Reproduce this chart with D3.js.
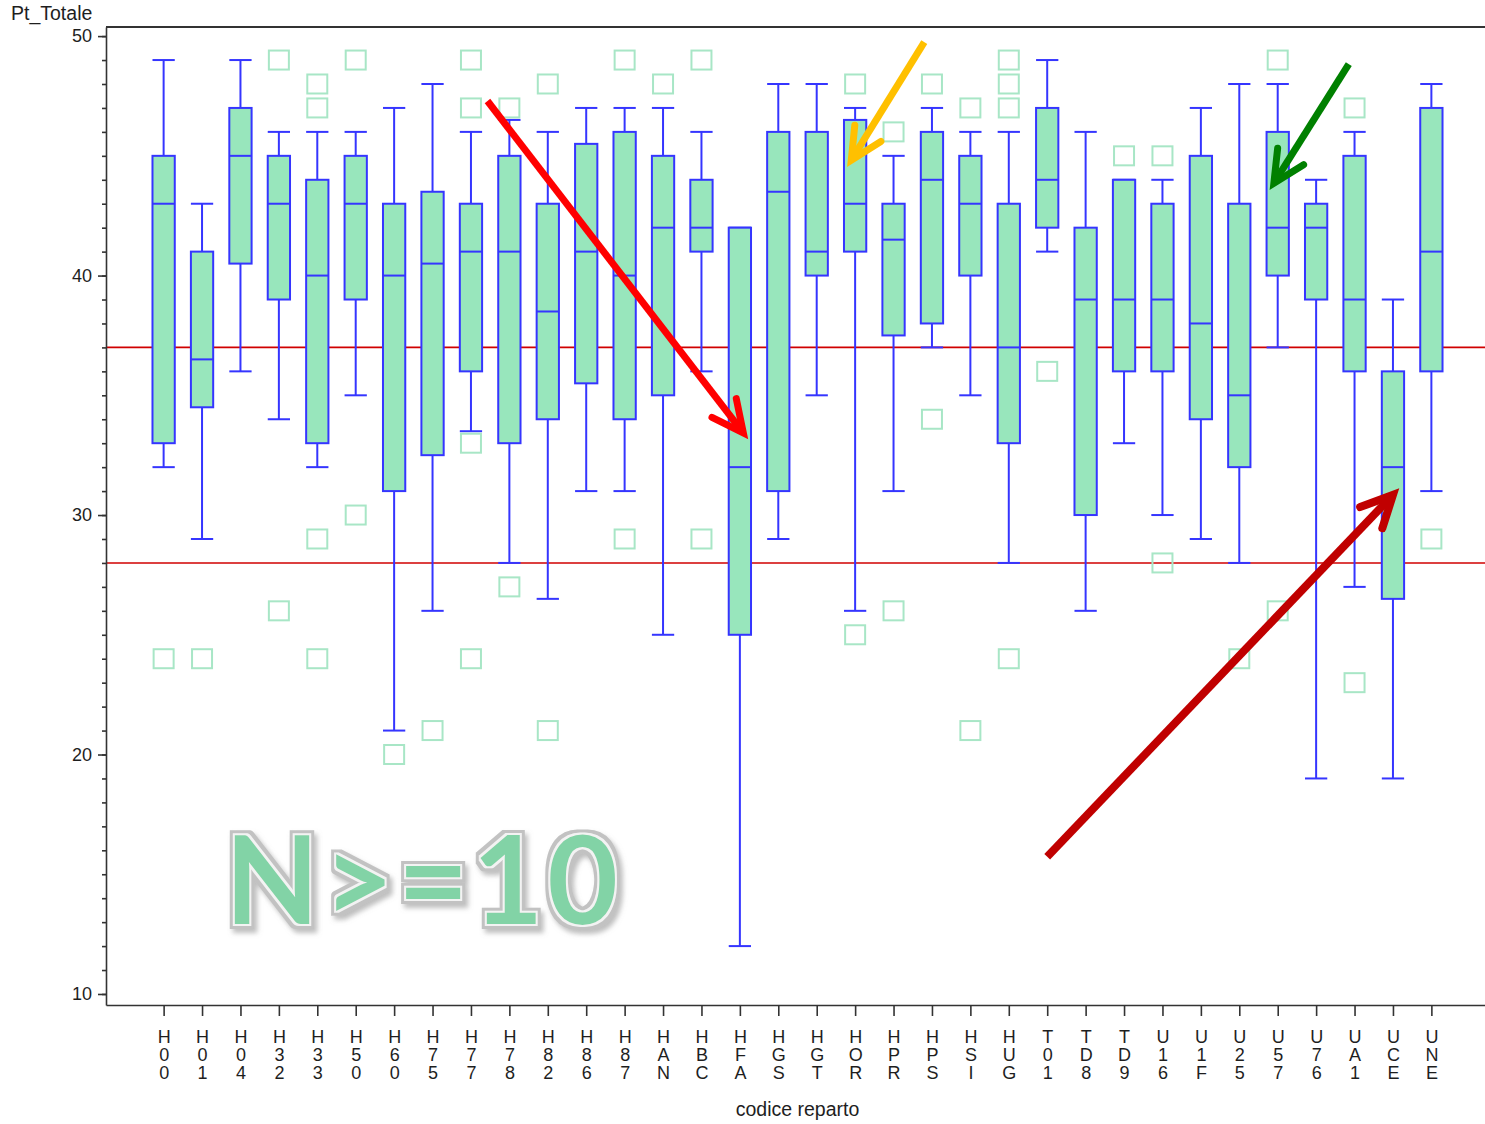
<!DOCTYPE html>
<html>
<head>
<meta charset="utf-8">
<title>Pt_Totale per codice reparto</title>
<script src="https://d3js.org/d3.v7.min.js"></script>
<style>
    body {
        margin: 0;
        background: #fff;
    }
    svg text {
        font-family: 'Liberation Sans', Arial, sans-serif;
        fill: #1e1e1e;
    }
    .axis path, .axis line {
        stroke: #333;
        stroke-width: 1.6px;
    }
    .axis text {
        font-size: 18px;
    }
    .axisTitle {
        font-size: 19.5px;
    }
    .refLine {
        stroke: #d00000;
        stroke-width: 1.6px;
    }
    .box {
        fill: #98e6bc;
        stroke: #3535ff;
        stroke-width: 2px;
    }
    .whisker, .median {
        stroke: #3535ff;
        stroke-width: 2px;
    }
    .outlier {
        fill: none;
        stroke: #a8e6c6;
        stroke-width: 2px;
    }
    svg text.bigLabel {
        font-family: Lato, 'Open Sans', sans-serif;
        font-weight: 700;
        font-size: 122px;
        letter-spacing: 4px;
        fill: #82d3a6;
    }
</style>
</head>
<body>
<svg id="chart" width="1485" height="1124"></svg>
<script>
    // ---- data ----
    var categories = ["H00","H01","H04","H32","H33","H50","H60","H75","H77","H78","H82","H86","H87","HAN","HBC","HFA","HGS",
                      "HGT","HOR","HPR","HPS","HSI","HUG","T01","TD8","TD9","U16","U1F","U25","U57","U76","UA1","UCE","UNE"];
    var whiskerLow  = [32, 29, 36, 34, 32, 35, 21, 26, 33.5, 28, 26.5, 31, 31, 25, 36, 12, 29,
                       35, 26, 31, 37, 35, 28, 41, 26, 33, 30, 29, 28, 37, 19, 27, 19, 31];
    var q1          = [33, 34.5, 40.5, 39, 33, 39, 31, 32.5, 36, 33, 34, 35.5, 34, 35, 41, 25, 31,
                       40, 41, 37.5, 38, 40, 33, 42, 30, 36, 36, 34, 32, 40, 39, 36, 26.5, 36];
    var median      = [43, 36.5, 45, 43, 40, 43, 40, 40.5, 41, 41, 38.5, 41, 40, 42, 42, 32, 43.5,
                       41, 43, 41.5, 44, 43, 37, 44, 39, 39, 39, 38, 35, 42, 42, 39, 32, 41];
    var q3          = [45, 41, 47, 45, 44, 45, 43, 43.5, 43, 45, 43, 45.5, 46, 45, 44, 42, 46,
                       46, 46.5, 43, 46, 45, 43, 47, 42, 44, 43, 45, 43, 46, 43, 45, 36, 47];
    var whiskerHigh = [49, 43, 49, 46, 46, 46, 47, 48, 46, 46.5, 46, 47, 47, 47, 46, 42, 48,
                       48, 47, 45, 47, 46, 46, 49, 46, 44, 44, 47, 48, 48, 44, 46, 39, 48];
    var outliers    = [[24], [24], [], [49, 26], [48, 47, 29, 24], [49, 30], [20], [21], [49, 47, 33, 24], [47, 27], [48, 21], [], [49, 29], [48], [49, 29], [], [],
                       [], [48, 25], [46, 26], [48, 34], [47, 21], [49, 48, 47, 24], [36], [], [45], [45, 28], [], [24], [49, 26], [], [47, 23], [], [29]];
    var refLines = [37, 28];
    var yTicks = [10, 20, 30, 40, 50];
    var yMinorTicks = d3.range(10, 51, 1);
    var yDomain = [9.54, 50.38];

    // hand drawn arrows, in (category position, value) units
    var arrowFrom  = [[8.43, 47.29], [19.80, 49.75], [30.85, 48.83], [23.00, 15.73]];
    var arrowTo    = [[15.09, 33.43], [17.90, 44.82], [28.90, 43.86], [32.00, 30.84]];
    var arrowColor = ["#ff0000", "#ffc000", "#008000", "#c00000"];
    var arrowWidth = [7, 7, 7, 8];

    var bigText = "N>=10";
    var bigTextAt = [1.60, 12.94];

    // ---- layout ----
    var svg = d3.select("#chart");
    var plot = { left: 106, right: 1489, top: 27, bottom: 1005 };

    var x = d3.scalePoint().domain(categories).range([plot.left, plot.right]).padding(1.5);
    var y = d3.scaleLinear().domain(yDomain).range([plot.bottom, plot.top]);
    var boxW = x.step() * 0.58;
    function xAt(pos) { return x(categories[0]) + pos * x.step(); }

    // frame top line
    svg.append("line")
        .attr("x1", plot.left).attr("x2", plot.right)
        .attr("y1", plot.top).attr("y2", plot.top)
        .attr("stroke", "#333").attr("stroke-width", 1.8);

    // reference lines (behind the boxes)
    svg.selectAll(".refLine").data(refLines).enter().append("line")
        .attr("class", "refLine")
        .attr("x1", plot.left).attr("x2", plot.right)
        .attr("y1", d => y(d)).attr("y2", d => y(d));

    // y axis: minor then major ticks
    svg.append("g")
        .attr("class", "axis")
        .attr("transform", "translate(" + plot.left + ",0)")
        .call(d3.axisLeft(y).tickValues(yMinorTicks).tickSize(4).tickSizeOuter(0).tickFormat(""));
    svg.append("g")
        .attr("class", "axis")
        .attr("transform", "translate(" + plot.left + ",0)")
        .call(d3.axisLeft(y).tickValues(yTicks).tickSize(8).tickSizeOuter(0).tickPadding(6).tickFormat(d3.format("d")))
        .call(g => g.select(".domain").remove());

    // x axis, labels written one character per line
    var xAxis = svg.append("g")
        .attr("class", "axis")
        .attr("transform", "translate(0," + plot.bottom + ")")
        .call(d3.axisBottom(x).tickSize(11).tickSizeOuter(0));
    xAxis.selectAll(".tick text").each(function(d) {
        var t = d3.select(this).text(null).attr("y", 38).attr("dy", null);
        d.split("").forEach((ch, i) => {
            t.append("tspan").attr("x", 0).attr("dy", i == 0 ? 0 : 18.2).text(ch);
        });
    });

    svg.append("text")
        .attr("class", "axisTitle")
        .attr("x", 11).attr("y", 20)
        .text("Pt_Totale");
    svg.append("text")
        .attr("class", "axisTitle")
        .attr("text-anchor", "middle")
        .attr("x", (plot.left + plot.right) / 2).attr("y", 1116)
        .text("codice reparto");

    // ---- box plots ----
    var boxes = svg.append("g").selectAll("g")
        .data(categories)
        .enter().append("g")
        .attr("transform", d => "translate(" + x(d) + ",0)");

    boxes.append("line").attr("class", "whisker")
        .attr("x1", 0).attr("x2", 0)
        .attr("y1", (d, i) => y(whiskerLow[i])).attr("y2", (d, i) => y(whiskerHigh[i]));
    boxes.append("line").attr("class", "whisker")
        .attr("x1", -boxW / 2).attr("x2", boxW / 2)
        .attr("y1", (d, i) => y(whiskerLow[i])).attr("y2", (d, i) => y(whiskerLow[i]));
    boxes.append("line").attr("class", "whisker")
        .attr("x1", -boxW / 2).attr("x2", boxW / 2)
        .attr("y1", (d, i) => y(whiskerHigh[i])).attr("y2", (d, i) => y(whiskerHigh[i]));
    boxes.append("rect").attr("class", "box")
        .attr("x", -boxW / 2).attr("width", boxW)
        .attr("y", (d, i) => y(q3[i]))
        .attr("height", (d, i) => y(q1[i]) - y(q3[i]));
    boxes.append("line").attr("class", "median")
        .attr("x1", -boxW / 2).attr("x2", boxW / 2)
        .attr("y1", (d, i) => y(median[i])).attr("y2", (d, i) => y(median[i]));

    // outliers as open squares
    boxes.each(function(d, i) {
        d3.select(this).selectAll(".outlier")
            .data(outliers[i])
            .enter().append("rect")
            .attr("class", "outlier")
            .attr("x", -10).attr("width", 20)
            .attr("y", v => y(v) - 9.5).attr("height", 19);
    });

    // ---- "N>=10" embossed label: one text, bevel made in a filter ----
    var emboss = svg.append("defs").append("filter")
        .attr("id", "emboss")
        .attr("x", "-10%").attr("y", "-20%").attr("width", "120%").attr("height", "140%");
    emboss.append("feMorphology").attr("in", "SourceAlpha").attr("operator", "dilate").attr("radius", 5).attr("result", "outer");
    emboss.append("feMorphology").attr("in", "SourceAlpha").attr("operator", "dilate").attr("radius", 2).attr("result", "inner");
    emboss.append("feGaussianBlur").attr("in", "outer").attr("stdDeviation", 2.5).attr("result", "blurOuter");
    emboss.append("feOffset").attr("in", "blurOuter").attr("dx", 3).attr("dy", 4).attr("result", "shadowAlpha");
    emboss.append("feFlood").attr("flood-color", "#8a8a8a").attr("flood-opacity", 0.55);
    emboss.append("feComposite").attr("in2", "shadowAlpha").attr("operator", "in").attr("result", "shadow");
    emboss.append("feFlood").attr("flood-color", "#c2c2c2");
    emboss.append("feComposite").attr("in2", "outer").attr("operator", "in").attr("result", "rim");
    emboss.append("feFlood").attr("flood-color", "#f3f3f3");
    emboss.append("feComposite").attr("in2", "inner").attr("operator", "in").attr("result", "shine");
    var merge = emboss.append("feMerge");
    ["shadow", "rim", "shine", "SourceGraphic"].forEach(n => merge.append("feMergeNode").attr("in", n));

    svg.append("text").attr("class", "bigLabel")
        .attr("x", xAt(bigTextAt[0])).attr("y", y(bigTextAt[1]))
        .attr("filter", "url(#emboss)")
        .text(bigText);

    // ---- arrows ----
    arrowFrom.forEach((from, i) => {
        var x0 = xAt(from[0]), y0 = y(from[1]);
        var x1 = xAt(arrowTo[i][0]), y1 = y(arrowTo[i][1]);
        var ang = Math.atan2(y0 - y1, x0 - x1);
        var headLen = 35, spread = 26 * Math.PI / 180;
        var g = svg.append("g")
            .attr("stroke", arrowColor[i])
            .attr("stroke-width", arrowWidth[i])
            .attr("fill", "none");
        g.append("line")
            .attr("x1", x0).attr("y1", y0).attr("x2", x1).attr("y2", y1);
        g.append("path")
            .attr("stroke-linecap", "round")
            .attr("stroke-linejoin", "miter")
            .attr("d", d3.line()([
                [x1 + headLen * Math.cos(ang + spread), y1 + headLen * Math.sin(ang + spread)],
                [x1, y1],
                [x1 + headLen * Math.cos(ang - spread), y1 + headLen * Math.sin(ang - spread)]
            ]));
    });
</script>
</body>
</html>
